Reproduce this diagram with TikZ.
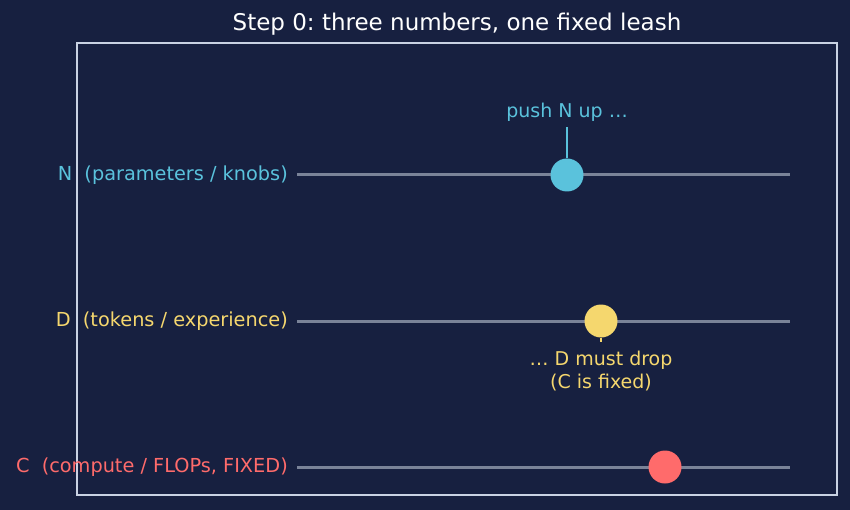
\documentclass[tikz,border=0pt]{standalone}
\usepackage{fontspec}
\setmainfont{DejaVu Sans}
\usetikzlibrary{positioning}
\frenchspacing

\definecolor{bgcol}{HTML}{172040}
\definecolor{boxcol}{HTML}{C9D2E3}
\definecolor{trackcol}{HTML}{7A8398}
\definecolor{ncol}{HTML}{5AC2DC}
\definecolor{dcol}{HTML}{F5D76E}
\definecolor{ccol}{HTML}{FF6B6B}

\begin{document}
\begin{tikzpicture}[x=1pt, y=-1pt,
    ball/.style={circle, minimum size=33pt, inner sep=0pt},
    track/.style={line width=3pt, color=trackcol},
    lab/.style={inner sep=0pt, font=\fontsize{19.3}{23}\selectfont},
    note/.style={inner sep=3pt, font=\fontsize{19}{23}\selectfont, align=center},
    stem/.style={line width=2pt},
    box/.style={draw=boxcol, line width=1.3pt}
]
    \fill[bgcol] (0,0) rectangle (850,510);
    \useasboundingbox (0,0) rectangle (850,510);

    \node[text=white, font=\fontsize{23}{27}\selectfont] (title) at (457,24) {Step 0: three numbers, one fixed leash};
    \draw[box] (77,43) rectangle (837,495);

    % the three sliders
    \coordinate (nleft) at (297,175);
    \coordinate (nright) at (790,175);
    \coordinate (dleft) at (297,321);
    \coordinate (dright) at (790,321);
    \coordinate (cleft) at (297,467);
    \coordinate (cright) at (790,467);

    \draw[track] (nleft) -- (nright);
    \draw[track] (dleft) -- (dright);
    \draw[track] (cleft) -- (cright);

    \node[ball, fill=ncol] (nball) at (567,175) {};
    \node[ball, fill=dcol] (dball) at (601,321) {};
    \node[ball, fill=ccol] (cball) at (665,467) {};

    \node[lab, text=ncol, left=9pt of nleft] (nlab) {N\ \ (parameters / knobs)};
    \node[lab, text=dcol, left=9pt of dleft] (dlab) {D\ \ (tokens / experience)};
    \node[lab, text=ccol, left=9pt of cleft] (clab) {C\ \ (compute / FLOPs, FIXED)};

    % notes
    \node[note, text=ncol, above=34pt of nball] (pushn) {push N up …};
    \draw[stem, ncol, shorten >=3pt] (nball) -- (pushn);

    \node[note, text=dcol, below=10pt of dball] (dropd) {… D must drop\\(C is fixed)};
    \draw[stem, dcol, shorten >=6pt] (dball) -- (dropd);

\end{tikzpicture}
\end{document}
